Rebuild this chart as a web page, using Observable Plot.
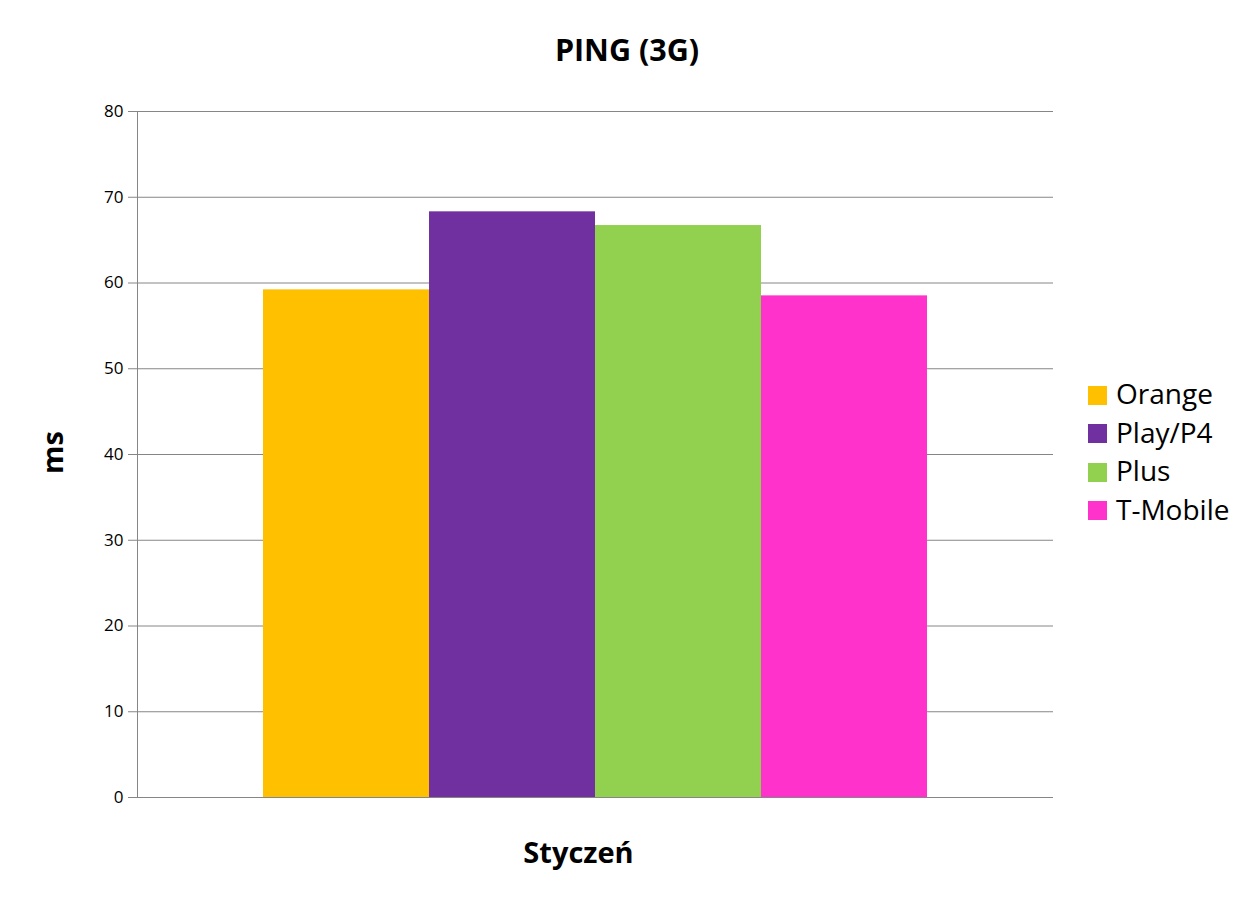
<!DOCTYPE html>
<html>
<head>
<meta charset="utf-8">
<script src="https://cdn.jsdelivr.net/npm/d3@7"></script>
<script src="https://cdn.jsdelivr.net/npm/@observablehq/plot@0.6"></script>
<style>
  body { margin: 0; background: #fff; font-family: "Open Sans", "Noto Sans", sans-serif; }
  #wrap { position: relative; width: 1254px; height: 907px; }
  #title { position: absolute; left: 0; top: 29px; width: 1254px; text-align: center;
           font-size: 30.5px; font-weight: bold; color: #000; line-height: 40px; }
  #legend { position: absolute; left: 1088px; top: 374px; }
  .row { display: flex; align-items: center; height: 38.5px; font-size: 28px; color: #000; }
  .sw { width: 19px; height: 19px; margin-right: 9px; position: relative; top: 2px; }
</style>
</head>
<body>
<div id="wrap">
  <div id="chart"></div>
  <div id="title"></div>
  <div id="legend"></div>
</div>
<script>
const titleText = "PING (3G)";
const month = "Styczeń";
const yLabel = "ms";
const operators = ["Orange", "Play/P4", "Plus", "T-Mobile"];
const values = [59.2, 68.3, 66.7, 58.5];
const colors = ["#FFC000", "#7030A0", "#92D050", "#FF33CC"];
const yTicks = [0, 10, 20, 30, 40, 50, 60, 70, 80];

const data = operators.map((op, i) => ({operator: op, month, value: values[i]}));

document.getElementById("title").textContent = titleText;

const chart = Plot.plot({
  width: 1254,
  height: 907,
  marginTop: 111,
  marginBottom: 110,
  marginLeft: 137,
  marginRight: 201,
  style: {fontFamily: "'Open Sans', 'Noto Sans', sans-serif", background: "#fff", color: "#000"},
  x: {domain: operators, paddingInner: 0, paddingOuter: 0.75, axis: null},
  y: {domain: [0, 80], axis: null},
  color: {domain: operators, range: colors},
  marks: [
    Plot.ruleY(yTicks, {stroke: "#868686", strokeWidth: 1}),
    Plot.barY(data, {x: "operator", y: "value", fill: "operator"}),
    Plot.ruleY([0], {stroke: "#868686", strokeWidth: 1}),
    Plot.frame({anchor: "left", stroke: "#868686"}),
    Plot.axisY({ticks: yTicks, tickSize: 9, tickPadding: 5, stroke: "#868686", fill: "#000",
                fontSize: 17, label: null}),
    Plot.text([yLabel], {frameAnchor: "left", textAnchor: "middle", lineAnchor: "middle",
                         dx: -84, dy: -2, rotate: -90, fontSize: 29, fontWeight: "bold", fill: "#000"}),
    Plot.text([month], {frameAnchor: "bottom", textAnchor: "middle", lineAnchor: "middle",
                        dx: -17, dy: 56, fontSize: 29, fontWeight: "bold", fill: "#000"})
  ]
});
document.getElementById("chart").appendChild(chart);

const legend = document.getElementById("legend");
operators.forEach((op, i) => {
  const row = document.createElement("div");
  row.className = "row";
  const sw = document.createElement("div");
  sw.className = "sw";
  sw.style.background = colors[i];
  const label = document.createElement("span");
  label.textContent = op;
  row.appendChild(sw);
  row.appendChild(label);
  legend.appendChild(row);
});
</script>
</body>
</html>
